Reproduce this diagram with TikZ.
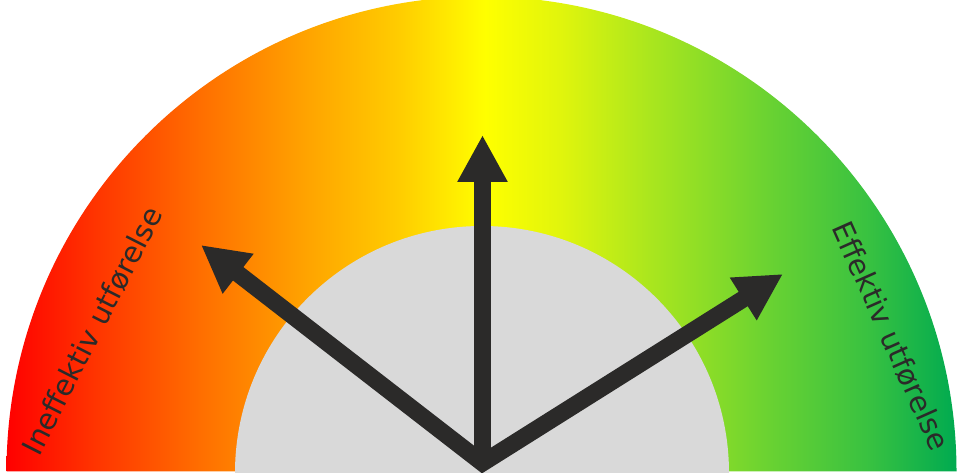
\documentclass[tikz,border=0pt]{standalone}
\usepackage{fontspec}
\newfontfamily\labelfont{DejaVu Sans}
\usetikzlibrary{arrows.meta}
\definecolor{arrowdark}{RGB}{43,42,41}
\definecolor{innergray}{RGB}{217,217,217}
\definecolor{gA}{RGB}{255,0,0}
\definecolor{gB}{RGB}{255,55,0}
\definecolor{gC}{RGB}{255,110,0}
\definecolor{gD}{RGB}{255,165,0}
\definecolor{gE}{RGB}{255,205,0}
\definecolor{gF}{RGB}{255,255,0}
\definecolor{gG}{RGB}{225,245,12}
\definecolor{gH}{RGB}{170,230,30}
\definecolor{gI}{RGB}{105,210,50}
\definecolor{gJ}{RGB}{55,193,65}
\definecolor{gK}{RGB}{0,170,80}
\pgfdeclarehorizontalshading{gauge}{100bp}{color(0bp)=(gA); color(25bp)=(gA); color(29.92bp)=(gB); color(35.18bp)=(gC); color(40.97bp)=(gD); color(45.71bp)=(gE); color(50.18bp)=(gF); color(54.13bp)=(gG); color(58.87bp)=(gH); color(65.18bp)=(gI); color(70.45bp)=(gJ); color(75bp)=(gK); color(100bp)=(gK)}
\tikzset{
  shaft/.style={draw=arrowdark, line width=17pt, line join=miter, miter limit=10},
  headtip/.style={-{Triangle[length=47pt,width=47pt]}},
  gaugelabel/.style={font=\labelfont\fontsize{29}{34}\selectfont, text=arrowdark, inner sep=0pt}
}
\begin{document}
\begin{tikzpicture}[x=1pt,y=1pt]
\useasboundingbox (0,0) rectangle (961,473);
% coloured fan
\shade[shading=gauge] (6.5,1.5) arc[start angle=180,end angle=0,radius=475] -- cycle;
% inner grey half disc
\fill[innergray] (235,0) arc[start angle=180,end angle=0,radius=247] -- cycle;
% arrow points
\coordinate (O) at (482.5,10);
\coordinate (T) at (482.5,338);
\coordinate (L) at (201,228);
\coordinate (R) at (783,199);
\draw[shaft, {Triangle[length=47pt,width=47pt]}-{Triangle[length=47pt,width=47pt]}] (L) -- (O) -- (R);
\draw[shaft, headtip] (O) -- (T);
% labels
\node[gaugelabel, rotate=63] (lowlabel) at (92,142) {Ineffektiv utførelse};
\node[gaugelabel, rotate=-66] (highlabel) at (891,137) {Effektiv utførelse};
\end{tikzpicture}
\end{document}
